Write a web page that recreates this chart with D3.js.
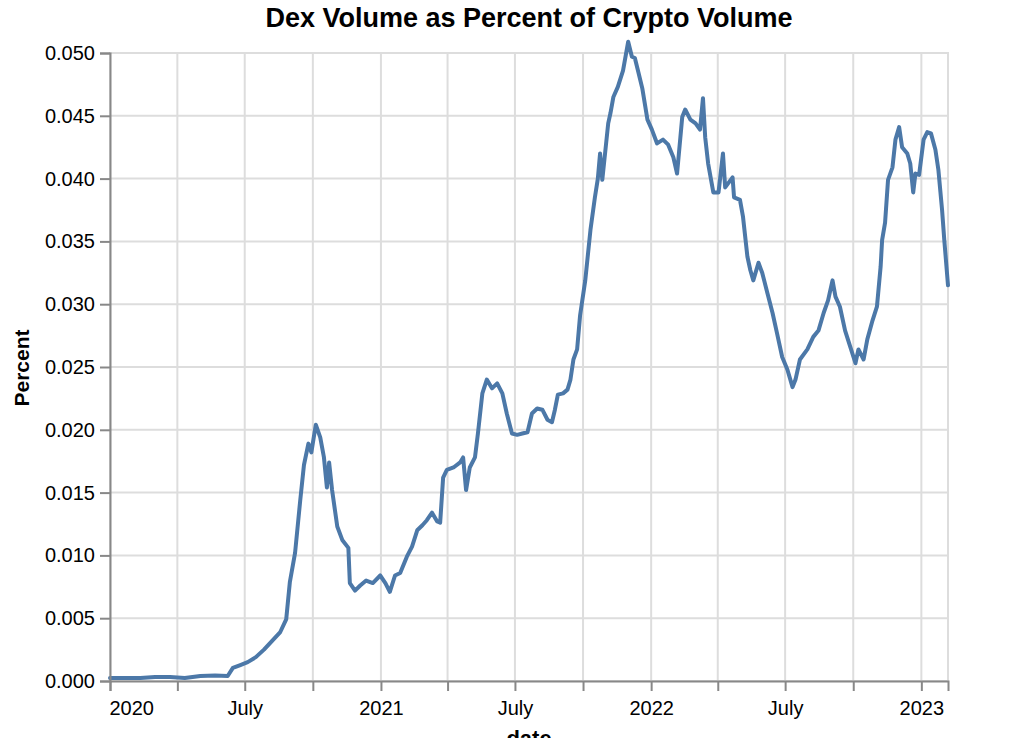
<!DOCTYPE html>
<html>
<head>
<meta charset="utf-8">
<script src="https://cdn.jsdelivr.net/npm/d3@7"></script>
<style>
  html, body { margin: 0; padding: 0; background: #fff; }
  svg { display: block; }
  text { font-family: "Liberation Sans", Arial, Helvetica, sans-serif; }
</style>
</head>
<body>
<svg id="chart" width="1014" height="738"></svg>
<script>
const chartTitle = "Dex Volume as Percent of Crypto Volume";
const xTitle = "date";
const yTitle = "Percent";

const dates = [
  "2020-01-01","2020-01-21","2020-02-11","2020-03-02","2020-03-22","2020-04-11","2020-05-02","2020-05-22",
  "2020-06-08","2020-06-15","2020-06-25","2020-07-05","2020-07-16","2020-07-27","2020-08-07","2020-08-18",
  "2020-08-26","2020-08-31","2020-09-07","2020-09-14","2020-09-19","2020-09-25","2020-09-29","2020-10-05",
  "2020-10-11","2020-10-16","2020-10-20","2020-10-23","2020-10-27","2020-11-03","2020-11-10","2020-11-18",
  "2020-11-20","2020-11-27","2020-12-04","2020-12-12","2020-12-21","2020-12-31","2021-01-07","2021-01-13",
  "2021-01-20","2021-01-27","2021-02-05","2021-02-12","2021-02-19","2021-02-26","2021-03-04","2021-03-11",
  "2021-03-18","2021-03-22","2021-03-26","2021-03-31","2021-04-09","2021-04-18","2021-04-22","2021-04-26",
  "2021-05-01","2021-05-08","2021-05-12","2021-05-18","2021-05-24","2021-05-31","2021-06-07","2021-06-14",
  "2021-06-20","2021-06-27","2021-07-04","2021-07-11","2021-07-18","2021-07-24","2021-07-31","2021-08-07",
  "2021-08-14","2021-08-20","2021-08-24","2021-08-28","2021-09-04","2021-09-10","2021-09-14","2021-09-18",
  "2021-09-23","2021-09-27","2021-10-04","2021-10-11","2021-10-17","2021-10-21","2021-10-24","2021-10-27",
  "2021-11-04","2021-11-07","2021-11-11","2021-11-17","2021-11-24","2021-12-01","2021-12-06","2021-12-10",
  "2021-12-15","2021-12-20","2021-12-27","2022-01-02","2022-01-09","2022-01-17","2022-01-24","2022-01-31",
  "2022-02-05","2022-02-12","2022-02-16","2022-02-23","2022-03-02","2022-03-08","2022-03-12","2022-03-15",
  "2022-03-19","2022-03-26","2022-04-02","2022-04-08","2022-04-11","2022-04-21","2022-04-23","2022-05-01",
  "2022-05-05","2022-05-11","2022-05-15","2022-05-19","2022-05-26","2022-05-31","2022-06-07","2022-06-14",
  "2022-06-20","2022-06-27","2022-07-04","2022-07-11","2022-07-15","2022-07-21","2022-07-31","2022-08-08",
  "2022-08-15","2022-08-22","2022-08-28","2022-09-03","2022-09-07","2022-09-13","2022-09-20","2022-09-27",
  "2022-10-04","2022-10-08","2022-10-15","2022-10-20","2022-10-27","2022-11-02","2022-11-07","2022-11-09",
  "2022-11-13","2022-11-17","2022-11-23","2022-11-27","2022-12-02","2022-12-06","2022-12-13","2022-12-17",
  "2022-12-21","2022-12-24","2022-12-29","2023-01-04","2023-01-09","2023-01-14","2023-01-20","2023-01-24",
  "2023-01-29","2023-02-01","2023-02-06"
];

const percent = [
  0.00024,0.00024,0.00024,0.00032,0.00032,0.00024,0.0004,0.00044,
  0.0004,0.00104,0.00127,0.0015,0.0019,0.0025,0.0032,0.0039,
  0.0049,0.0079,0.0102,0.0144,0.0172,0.0189,0.0182,0.0204,
  0.0194,0.0178,0.0154,0.0174,0.0152,0.0123,0.0112,0.0106,
  0.0078,0.0072,0.0076,0.0080,0.0078,0.0084,0.0078,0.0071,
  0.0084,0.0086,0.0099,0.0107,0.0120,0.0124,0.0128,0.0134,
  0.0127,0.0126,0.0162,0.0168,0.0170,0.0174,0.0178,0.0152,
  0.0170,0.0178,0.0197,0.0229,0.0240,0.0233,0.0237,0.0229,
  0.0213,0.0197,0.0196,0.0197,0.0198,0.0213,0.0217,0.0216,
  0.0208,0.0206,0.0216,0.0228,0.0229,0.0232,0.0240,0.0256,
  0.0264,0.0291,0.0319,0.0359,0.0385,0.0400,0.0420,0.0399,
  0.0444,0.0452,0.0465,0.0473,0.0486,0.0509,0.0497,0.0496,
  0.0484,0.0472,0.0447,0.0439,0.0428,0.0431,0.0427,0.0417,
  0.0404,0.0449,0.0455,0.0447,0.0444,0.0439,0.0464,0.0433,
  0.0412,0.0389,0.0389,0.0420,0.0393,0.0401,0.0385,0.0383,
  0.0370,0.0338,0.0327,0.0319,0.0333,0.0325,0.0309,0.0293,
  0.0277,0.0258,0.0248,0.0234,0.0240,0.0256,0.0264,0.0274,
  0.0279,0.0293,0.0303,0.0319,0.0306,0.0298,0.0279,0.0266,
  0.0253,0.0264,0.0256,0.0272,0.0287,0.0298,0.0330,0.0351,
  0.0365,0.0399,0.0409,0.0431,0.0441,0.0425,0.0420,0.0412,
  0.0389,0.0404,0.0403,0.0431,0.0437,0.0436,0.0423,0.0407,
  0.0375,0.0351,0.0315
];

const yTicks = [0, 0.005, 0.01, 0.015, 0.02, 0.025, 0.03, 0.035, 0.04, 0.045, 0.05];

const parse = d3.utcParse("%Y-%m-%d");
const data = dates.map((d, i) => ({ date: parse(d), value: percent[i] }));

const plotLeft = 110, plotRight = 948, plotTop = 53, plotBottom = 681;

const svg = d3.select("#chart");

const x = d3.scaleUtc()
  .domain(d3.extent(data, d => d.date))
  .range([plotLeft, plotRight]);
const y = d3.scaleLinear().domain([0, 0.05]).range([plotBottom, plotTop]);

const xTickVals = x.ticks(d3.utcMonth.every(3));

// grid
const grid = svg.append("g");
grid.selectAll("line.vg").data(xTickVals).join("line")
  .attr("x1", d => x(d)).attr("x2", d => x(d))
  .attr("y1", plotTop).attr("y2", plotBottom)
  .attr("stroke", "#ddd").attr("stroke-width", 2);
grid.selectAll("line.hg").data(yTicks).join("line")
  .attr("x1", plotLeft).attr("x2", plotRight)
  .attr("y1", d => y(d)).attr("y2", d => y(d))
  .attr("stroke", "#ddd").attr("stroke-width", 2);
// view border
svg.append("rect")
  .attr("x", plotLeft).attr("y", plotTop)
  .attr("width", plotRight - plotLeft).attr("height", plotBottom - plotTop)
  .attr("fill", "none").attr("stroke", "#ddd").attr("stroke-width", 2);

// line
svg.append("path")
  .datum(data)
  .attr("fill", "none")
  .attr("stroke", "#4c78a8")
  .attr("stroke-width", 4)
  .attr("stroke-linejoin", "round")
  .attr("stroke-linecap", "round")
  .attr("d", d3.line().x(d => x(d.date)).y(d => y(d.value)));

// x axis
const fmtX = d => d.getUTCMonth() === 0 ? d3.utcFormat("%Y")(d) : (d.getUTCMonth() === 6 ? "July" : "");
const xAxis = svg.append("g")
  .attr("transform", `translate(0,${plotBottom})`)
  .call(d3.axisBottom(x).tickValues(xTickVals).tickSize(10).tickPadding(8).tickFormat(fmtX));
xAxis.select(".domain").attr("stroke", "#888").attr("stroke-width", 2);
xAxis.selectAll(".tick line").attr("stroke", "#888").attr("stroke-width", 2);
xAxis.selectAll(".tick text")
  .attr("font-size", 20).attr("fill", "#000")
  .attr("dy", null).attr("y", 34)
  .attr("text-anchor", (d, i) => i === 0 ? "start" : "middle")
  .attr("x", (d, i) => i === 0 ? -1 : 0);

// y axis
const yAxis = svg.append("g")
  .attr("transform", `translate(${plotLeft},0)`)
  .call(d3.axisLeft(y).tickValues(yTicks).tickSize(10).tickPadding(5).tickFormat(d3.format(".3f")));
yAxis.select(".domain").attr("stroke", "#888").attr("stroke-width", 2);
yAxis.selectAll(".tick line").attr("stroke", "#888").attr("stroke-width", 2);
yAxis.selectAll(".tick text").attr("font-size", 20).attr("fill", "#000");

// titles
svg.append("text")
  .attr("x", 529).attr("y", 27)
  .attr("text-anchor", "middle")
  .attr("font-size", 27).attr("font-weight", "bold").attr("fill", "#000")
  .text(chartTitle);

svg.append("text")
  .attr("x", 529).attr("y", 746)
  .attr("text-anchor", "middle")
  .attr("font-size", 22).attr("font-weight", "bold").attr("fill", "#000")
  .text(xTitle);

svg.append("text")
  .attr("transform", "translate(29,368) rotate(-90)")
  .attr("text-anchor", "middle")
  .attr("font-size", 21).attr("font-weight", "bold").attr("fill", "#000")
  .text(yTitle);
</script>
</body>
</html>
